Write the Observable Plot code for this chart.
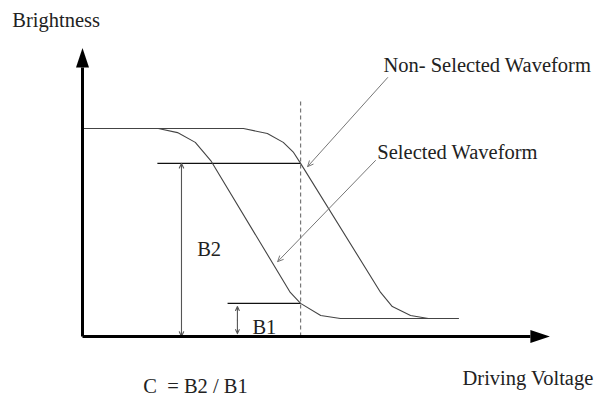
<!DOCTYPE html>
<html>
<head>
<meta charset="utf-8">
<script src="https://cdn.jsdelivr.net/npm/d3@7"></script>
<script src="https://cdn.jsdelivr.net/npm/@observablehq/plot@0.6"></script>
<style>
  html, body { margin: 0; padding: 0; background: #fff; font-family: "Liberation Serif"; }
  #chart svg text { font-family: "Liberation Serif" !important; }
</style>
</head>
<body>
<div id="chart"></div>
<script>
// Selected waveform (driving voltage, brightness) in arbitrary units 0..100
const selectedVoltage    = [0, 16.2, 20.3, 24.1, 27.4, 44.4, 46.6, 50.9, 55.1, 80.3];
const selectedBrightness = [72.2, 72.2, 70.8, 67.4, 61.1, 15.3, 11.5, 7.3, 6.25, 6.25];
// Non-selected waveform
const nonSelectedVoltage    = [0, 34.4, 39.5, 42.9, 45.1, 46.6, 63.7, 66.2, 70.1, 73.9, 80.3];
const nonSelectedBrightness = [72.2, 72.2, 70.5, 67.4, 63.9, 60.1, 15.3, 10.4, 7.3, 6.25, 6.25];

// Reference levels
const selectVoltage = 46.6;   // dashed line
const dashedTop = 81.9;
const b2Level = 60.1;
const b2LineStart = 16.0;
const b1Level = 11.5;
const b1LineStart = 31.0;
const b2ArrowV = 21.15;
const b1ArrowV = 33.1;
const b1ArrowBottom = 1.0;
const b1ArrowTop = 10.4;

// Pointer arrows (start -> end)
const pointerStartV = [65.2, 62.6];
const pointerStartB = [89.9, 61.1];
const pointerEndV   = [48.1, 41.7];
const pointerEndB   = [59.0, 26.0];

// Axis extents
const yAxisTop = 93.4;
const xAxisEnd = 95.7;

// Labels
const labelText = ["Brightness", "Non- Selected Waveform", "Selected Waveform", "B2", "B1", "C\u00a0\u00a0= B2 / B1", "Driving Voltage"];
const labelV = [-15.0, 64.3, 63.0, 24.5, 36.3, 13.0, 81.2];
const labelB = [107.3, 91.8, 61.8, 28.1, 1.0, -19.6, -16.7];

const selected = selectedVoltage.map((v, i) => ({v, b: selectedBrightness[i]}));
const nonSelected = nonSelectedVoltage.map((v, i) => ({v, b: nonSelectedBrightness[i]}));
const labels = labelText.map((t, i) => ({t, v: labelV[i], b: labelB[i]}));
const pointers = pointerStartV.map((v, i) => ({x1: v, y1: pointerStartB[i], x2: pointerEndV[i], y2: pointerEndB[i]}));

const b2Mid = b2Level / 2;
const b1Mid = (b1ArrowBottom + b1ArrowTop) / 2;
const b2Arrows = [
  {x: b2ArrowV, y1: b2Mid, y2: b2Level},
  {x: b2ArrowV, y1: b2Mid, y2: 0}
];
const b1Arrows = [
  {x: b1ArrowV, y1: b1Mid, y2: b1ArrowTop},
  {x: b1ArrowV, y1: b1Mid, y2: b1ArrowBottom}
];

const arrowHead = {
  draw(ctx) {
    ctx.moveTo(0, -19.5);
    ctx.lineTo(6.5, 0);
    ctx.lineTo(-6.5, 0);
    ctx.closePath();
  }
};

const chart = Plot.plot({
  width: 600,
  height: 396,
  marginLeft: 82,
  marginRight: 50,
  marginTop: 48,
  marginBottom: 60,
  x: {domain: [0, 100], axis: null},
  y: {domain: [0, 100], axis: null},
  marks: [
    // dashed select voltage line
    Plot.link([{x: selectVoltage}], {x1: "x", x2: "x", y1: () => 0, y2: () => dashedTop, stroke: "#777", strokeWidth: 1.2, strokeDasharray: "4,3"}),
    // reference horizontal lines
    Plot.link([{x1: b2LineStart, x2: selectVoltage, y: b2Level}, {x1: b1LineStart, x2: selectVoltage, y: b1Level}],
      {x1: "x1", x2: "x2", y1: "y", y2: "y", stroke: "#111", strokeWidth: 1.1}),
    // waveforms
    Plot.line(selected, {x: "v", y: "b", stroke: "#444", strokeWidth: 1.1}),
    Plot.line(nonSelected, {x: "v", y: "b", stroke: "#444", strokeWidth: 1.1}),
    // double arrows for B2 and B1
    Plot.arrow(b2Arrows, {x1: "x", x2: "x", y1: "y1", y2: "y2", headLength: 7, headAngle: 50, stroke: "#555", strokeWidth: 1.1}),
    Plot.arrow(b1Arrows, {x1: "x", x2: "x", y1: "y1", y2: "y2", headLength: 6, headAngle: 50, stroke: "#555", strokeWidth: 1.1}),
    // pointer arrows
    Plot.arrow(pointers, {x1: "x1", y1: "y1", x2: "x2", y2: "y2", stroke: "#777", strokeWidth: 1, headLength: 9, headAngle: 50}),
    // axes
    Plot.link([{x1: 0, y1: 0, x2: 0, y2: yAxisTop}, {x1: 0, y1: 0, x2: xAxisEnd, y2: 0}],
      {x1: "x1", y1: "y1", x2: "x2", y2: "y2", stroke: "#000", strokeWidth: 3}),
    Plot.dot([{x: 0, y: yAxisTop, r: 0}, {x: xAxisEnd, y: 0, r: 90}],
      {x: "x", y: "y", rotate: "r", symbol: arrowHead, fill: "#000", stroke: "none"}),
    // labels
    Plot.text(labels, {x: "v", y: "b", text: "t", textAnchor: "start", lineAnchor: "bottom", fill: "#222",
      fontFamily: "Liberation Serif", fontSize: 20.5})
  ]
});
chart.style.overflow = "visible";
document.getElementById("chart").appendChild(chart);
</script>
</body>
</html>
